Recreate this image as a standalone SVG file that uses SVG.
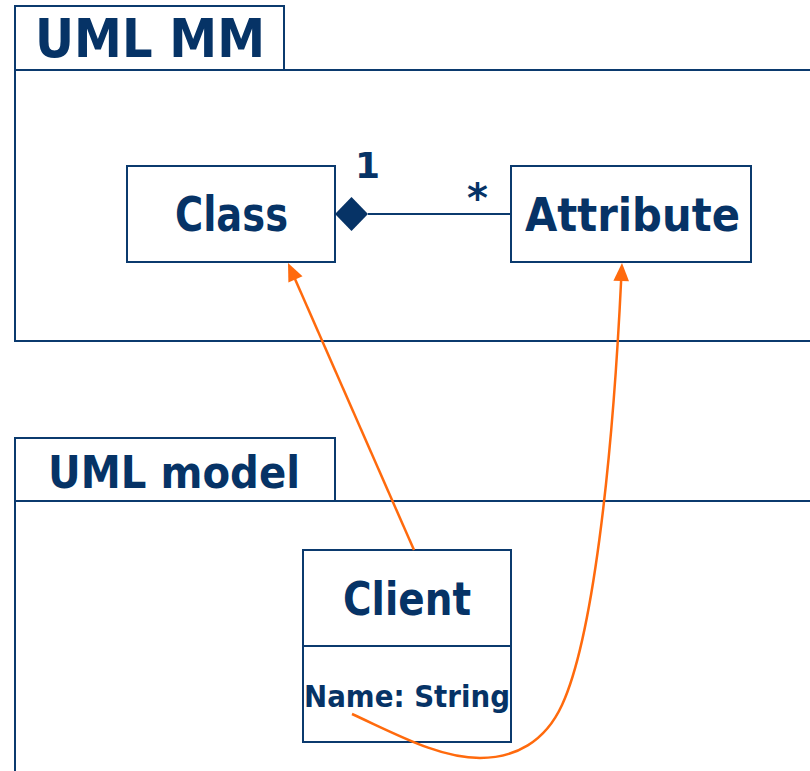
<svg xmlns="http://www.w3.org/2000/svg" width="810" height="771" viewBox="0 0 810 771">
<style>
.ln{fill:none;stroke:#0b3a6e;stroke-width:2}
.box{fill:#fff;stroke:#0b3a6e;stroke-width:2}
.t{font-family:"DejaVu Sans","Liberation Sans",sans-serif;font-weight:bold;fill:#063366}
.or{fill:none;stroke:#ff6a0d;stroke-width:2.5}
.ah{fill:#ff6a0d}
</style>
<g id="pkg-uml-mm">
<rect class="box" x="15" y="6" width="269" height="64"/>
<path class="ln" d="M15,70 H811 M15,70 V341 H811"/>
<text class="t" x="35" y="57" font-size="53" textLength="230" lengthAdjust="spacingAndGlyphs">UML MM</text>
</g>
<g id="pkg-uml-model">
<rect class="box" x="15" y="438" width="320" height="63"/>
<path class="ln" d="M15,501 H811 M15,501 V772"/>
<text class="t" x="48" y="488" font-size="44" textLength="252" lengthAdjust="spacingAndGlyphs">UML model</text>
</g>
<g id="class">
<rect class="box" x="127" y="166" width="208" height="96"/>
<text class="t" x="175" y="231" font-size="48" textLength="113" lengthAdjust="spacingAndGlyphs">Class</text>
</g>
<g id="attribute">
<rect class="box" x="511" y="166" width="240" height="96"/>
<text class="t" x="525" y="231" font-size="46" textLength="215" lengthAdjust="spacingAndGlyphs">Attribute</text>
</g>
<g id="client">
<rect class="box" x="303" y="550" width="208" height="192"/>
<path class="ln" d="M303,646 H511"/>
<text class="t" x="343" y="615" font-size="46" textLength="128" lengthAdjust="spacingAndGlyphs">Client</text>
<text class="t" x="304" y="707" font-size="31" textLength="206" lengthAdjust="spacingAndGlyphs">Name: String</text>
</g>
<g id="connectors">
<path class="ln" d="M368,214 H511"/>
<path d="M335,214 L351.5,197 L368,214 L351.5,231 Z" fill="#063366"/>
<text class="t" x="355" y="178" font-size="36">1</text>
<text class="t" x="467" y="212" font-size="40">*</text>
<path class="or" d="M414,550 L295,279"/>
<polygon class="ah" points="288,263 302.5,276.3 288.4,282.5"/>
<path class="or" d="M352,714 C400,736 440,758 480,758 C515,758 545,742 562,705 C592,640 612,470 621.2,279"/>
<polygon class="ah" points="622,263 629,281.3 613.4,280.7"/>
</g>
</svg>
